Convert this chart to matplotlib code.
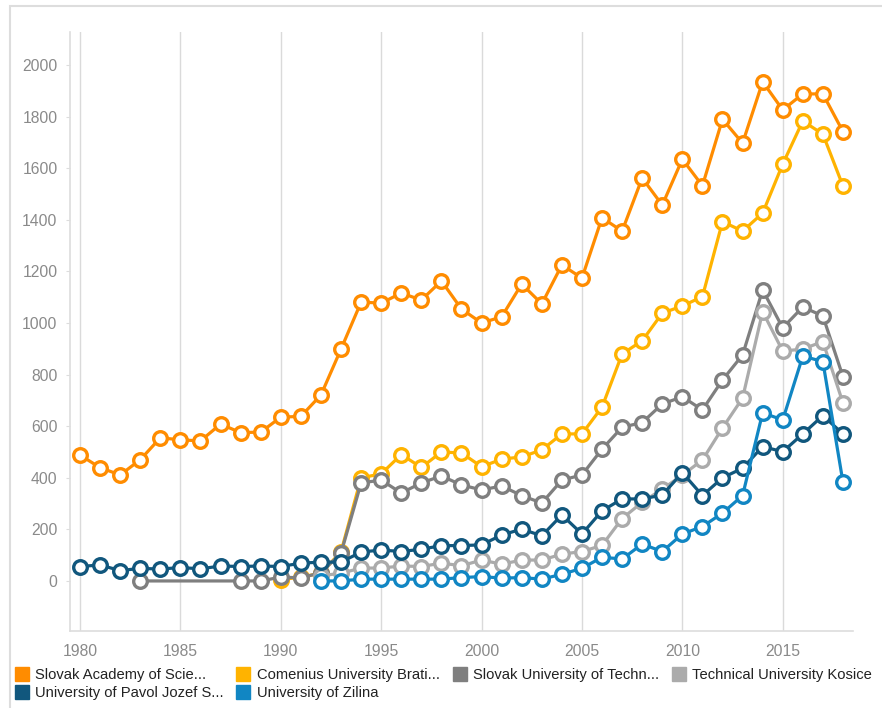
import numpy as np
import matplotlib
matplotlib.use('Agg')
from matplotlib import pyplot as plt
from matplotlib.lines import Line2D
from matplotlib.patches import Rectangle

plt.rcParams['font.family'] = ['Liberation Sans', 'DejaVu Sans']

years = np.arange(1980, 2019)

# None = no value that year (the line still joins the neighbours)
slovak_academy = [488, 439, 411, 470, 555, 547, 543, 608, 575, 577,
                  635, 638, 721, 899, 1081, 1077, 1116, 1089, 1163, 1054,
                  1000, 1024, 1151, 1074, 1225, 1174, 1408, 1356, 1562, 1457,
                  1635, 1532, 1790, 1697, 1935, 1826, 1888, 1888, 1742]
comenius = [None] * 10 + [5, 15, 30, 113, 400, 415, 490, 440, 500, 496,
                          443, 472, 481, 508, 570, 570, 674, 880, 931, 1038,
                          1066, 1102, 1393, 1356, 1426, 1616, 1783, 1732, 1531]
slovak_tech = [None, None, None, 0, None, None, None, None, 0, 0,
               15, 12, 32, 108, 380, 391, 341, 380, 407, 372,
               353, 368, 331, 302, 391, 411, 511, 596, 614, 686,
               714, 663, 779, 876, 1128, 981, 1062, 1027, 792]
tech_kosice = [None] * 12 + [20, 30, 50, 50, 58, 56, 69, 59,
                             81, 65, 81, 81, 104, 114, 138, 242, 305, 356,
                             410, 469, 593, 709, 1044, 891, 899, 928, 690]
pavol_jozef = [56, 62, 40, 49, 46, 52, 47, 58, 56, 58,
               56, 69, 73, 73, 112, 120, 114, 123, 137, 137,
               140, 178, 201, 175, 256, 182, 272, 318, 318, 333,
               420, 331, 400, 437, 521, 501, 570, 641, 570]
zilina = [None] * 12 + [0, 0, 7, 7, 7, 7, 7, 13,
                        17, 11, 13, 7, 26, 49, 92, 85, 143, 114,
                        182, 211, 263, 331, 652, 624, 872, 850, 383]

labels = ['Slovak Academy of Scie...', 'Comenius University Brati...',
          'Slovak University of Techn...', 'Technical University Kosice',
          'University of Pavol Jozef S...', 'University of Zilina']
series = [slovak_academy, comenius, slovak_tech, tech_kosice, pavol_jozef, zilina]
colors = ['#FF8C00', '#FFB300', '#7F7F7F', '#ABABAB', '#11577D', '#1186C3']

fig = plt.figure(figsize=(8.82, 7.08), dpi=100)
ax = fig.add_axes([70 / 882, 77 / 708, 783 / 882, 599 / 708])

for i, (vals, col) in enumerate(zip(series, colors)):
    v = np.array(vals, dtype=float)
    ok = ~np.isnan(v)
    ax.plot(years[ok], v[ok], color=col, linewidth=2.3, marker='o', markersize=9.8,
            markerfacecolor='white', markeredgecolor=col, markeredgewidth=2.4,
            zorder=3 + i)

ax.set_xlim(1979.5, 2018.5)
ax.set_ylim(-194, 2128)
ax.set_xticks(range(1980, 2016, 5))
ax.set_yticks(range(0, 2001, 200))

ax.grid(axis='x', color='#DADADA', linewidth=1)
ax.set_axisbelow(True)
for s in ['top', 'right']:
    ax.spines[s].set_visible(False)
for s in ['left', 'bottom']:
    ax.spines[s].set_color('#DDDDDD')
    ax.spines[s].set_linewidth(1.2)

ax.tick_params(axis='both', labelsize=11.3, labelcolor='#8A8A8A')
ax.tick_params(axis='x', length=0, pad=9)
ax.tick_params(axis='y', length=3, color='#DDDDDD', pad=6)

# legend: entries in column-major order so the rows read left to right
handles = [Line2D([], [], linestyle='', marker='s', markersize=10.5, color=c) for c in colors]
order = [0, 4, 1, 5, 2, 3]
fig.legend([handles[k] for k in order], [labels[k] for k in order],
           ncol=4, loc='upper left', bbox_to_anchor=(15 / 882, 1 - 668 / 708),
           frameon=False, fontsize=10.6, handlelength=0.9, handletextpad=0.45,
           columnspacing=0.9, labelspacing=0.3, borderaxespad=0, borderpad=0,
           labelcolor='#222222')

# outer frame around the whole chart
fig.patches.append(Rectangle((10 / 882, -0.01), 1.0, 1 - 6 / 708 + 0.01,
                             transform=fig.transFigure, fill=False,
                             edgecolor='#DDDDDD', linewidth=1.5))

fig.savefig('out.png', dpi=100, facecolor='white')
